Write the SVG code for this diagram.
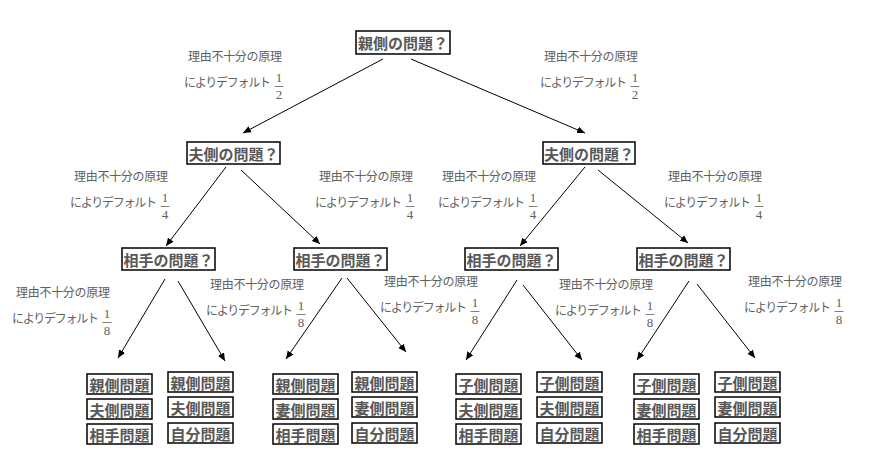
<svg xmlns="http://www.w3.org/2000/svg" width="883" height="464" viewBox="0 0 883 464">
<style>
.bx{fill:#fff;stroke:#000;stroke-width:1.5}
.nt{font-family:"Noto Sans CJK JP",sans-serif;font-weight:bold;font-size:15px;fill:#585858;text-anchor:middle;dominant-baseline:central}
.lt{font-family:"Noto Sans CJK JP",sans-serif;font-size:12px;fill:#606060}
.fr{font-family:"Liberation Serif",serif;font-size:13px;fill:#606060;text-anchor:middle}
.fb{stroke:#606060;stroke-width:0.8}
.cn{stroke:#000;stroke-width:1;fill:none;marker-end:url(#ah)}
</style>
<defs>
<marker id="ah" markerUnits="userSpaceOnUse" markerWidth="9" markerHeight="8" refX="8" refY="4" orient="auto">
<path d="M0,0.5 L8,4 L0,7.5 z" fill="#000"/>
</marker>
<g id="lab">
<text class="lt" x="0" y="0" text-anchor="middle" textLength="94">理由不十分の原理</text>
<text class="lt" x="-51" y="26" textLength="87">によりデフォルト</text>
<line class="fb" x1="39.5" x2="48.5" y1="25.5" y2="25.5"/>
</g>
</defs>
<rect width="883" height="464" fill="#fff"/>

<g id="connectors">
<line class="cn" x1="383" y1="59" x2="243" y2="133"/>
<line class="cn" x1="411" y1="59" x2="585" y2="133"/>
<line class="cn" x1="226" y1="167" x2="166" y2="246"/>
<line class="cn" x1="241" y1="170" x2="320" y2="244"/>
<line class="cn" x1="585" y1="167" x2="520" y2="246"/>
<line class="cn" x1="598" y1="170" x2="688" y2="243"/>
<line class="cn" x1="165" y1="279" x2="118" y2="358"/>
<line class="cn" x1="178" y1="281" x2="225" y2="361"/>
<line class="cn" x1="342" y1="278" x2="286" y2="359"/>
<line class="cn" x1="347" y1="278" x2="406" y2="352"/>
<line class="cn" x1="517" y1="280" x2="466" y2="360"/>
<line class="cn" x1="523" y1="285" x2="582" y2="360"/>
<line class="cn" x1="689" y1="281" x2="637" y2="360"/>
<line class="cn" x1="697" y1="284" x2="755" y2="358"/>
</g>

<g id="labels">
<g transform="translate(235,61)"><use href="#lab"/><text class="fr" x="44" y="21">1</text><text class="fr" x="44" y="38">2</text></g>
<g transform="translate(591,61)"><use href="#lab"/><text class="fr" x="44" y="21">1</text><text class="fr" x="44" y="38">2</text></g>
<g transform="translate(121,181)"><use href="#lab"/><text class="fr" x="44" y="21">1</text><text class="fr" x="44" y="38">4</text></g>
<g transform="translate(366,181)"><use href="#lab"/><text class="fr" x="44" y="21">1</text><text class="fr" x="44" y="38">4</text></g>
<g transform="translate(489,181)"><use href="#lab"/><text class="fr" x="44" y="21">1</text><text class="fr" x="44" y="38">4</text></g>
<g transform="translate(715,181)"><use href="#lab"/><text class="fr" x="44" y="21">1</text><text class="fr" x="44" y="38">4</text></g>
<g transform="translate(63,297)"><use href="#lab"/><text class="fr" x="44" y="21">1</text><text class="fr" x="44" y="38">8</text></g>
<g transform="translate(257,289)"><use href="#lab"/><text class="fr" x="44" y="21">1</text><text class="fr" x="44" y="38">8</text></g>
<g transform="translate(431,286)"><use href="#lab"/><text class="fr" x="44" y="21">1</text><text class="fr" x="44" y="38">8</text></g>
<g transform="translate(606,289)"><use href="#lab"/><text class="fr" x="44" y="21">1</text><text class="fr" x="44" y="38">8</text></g>
<g transform="translate(795,286)"><use href="#lab"/><text class="fr" x="44" y="21">1</text><text class="fr" x="44" y="38">8</text></g>
</g>

<g id="root"><rect class="bx" x="356" y="31" width="94" height="23"/><text class="nt" x="403" y="42.5">親側の問題？</text></g>
<g id="husbandL"><rect class="bx" x="187" y="142" width="93" height="22"/><text class="nt" x="233.5" y="153">夫側の問題？</text></g>
<g id="husbandR"><rect class="bx" x="543" y="142" width="92" height="22"/><text class="nt" x="589" y="153">夫側の問題？</text></g>
<g id="partner1"><rect class="bx" x="122" y="248" width="93" height="22"/><text class="nt" x="168.5" y="259">相手の問題？</text></g>
<g id="partner2"><rect class="bx" x="294" y="248" width="93" height="22"/><text class="nt" x="340.5" y="259">相手の問題？</text></g>
<g id="partner3"><rect class="bx" x="465" y="248" width="93" height="22"/><text class="nt" x="511.5" y="259">相手の問題？</text></g>
<g id="partner4"><rect class="bx" x="637" y="248" width="93" height="22"/><text class="nt" x="683.5" y="259">相手の問題？</text></g>

<g id="leaf1a"><rect class="bx" x="87" y="374" width="65" height="20"/><text class="nt" x="119.5" y="384">親側問題</text></g>
<g id="leaf1b"><rect class="bx" x="87" y="399" width="65" height="20"/><text class="nt" x="119.5" y="409">夫側問題</text></g>
<g id="leaf1c"><rect class="bx" x="87" y="424" width="65" height="20"/><text class="nt" x="119.5" y="434">相手問題</text></g>
<g id="leaf2a"><rect class="bx" x="168" y="372" width="65" height="20"/><text class="nt" x="200.5" y="382">親側問題</text></g>
<g id="leaf2b"><rect class="bx" x="168" y="397" width="65" height="20"/><text class="nt" x="200.5" y="407">夫側問題</text></g>
<g id="leaf2c"><rect class="bx" x="168" y="423" width="65" height="20"/><text class="nt" x="200.5" y="433">自分問題</text></g>

<g id="leaf3a"><rect class="bx" x="273" y="374" width="65" height="20"/><text class="nt" x="305.5" y="384">親側問題</text></g>
<g id="leaf3b"><rect class="bx" x="273" y="399" width="65" height="20"/><text class="nt" x="305.5" y="409">妻側問題</text></g>
<g id="leaf3c"><rect class="bx" x="273" y="424" width="65" height="20"/><text class="nt" x="305.5" y="434">相手問題</text></g>
<g id="leaf4a"><rect class="bx" x="352" y="372" width="65" height="20"/><text class="nt" x="384.5" y="382">親側問題</text></g>
<g id="leaf4b"><rect class="bx" x="352" y="397" width="65" height="20"/><text class="nt" x="384.5" y="407">妻側問題</text></g>
<g id="leaf4c"><rect class="bx" x="352" y="423" width="65" height="20"/><text class="nt" x="384.5" y="433">自分問題</text></g>

<g id="leaf5a"><rect class="bx" x="456" y="374" width="65" height="20"/><text class="nt" x="488.5" y="384">子側問題</text></g>
<g id="leaf5b"><rect class="bx" x="456" y="399" width="65" height="20"/><text class="nt" x="488.5" y="409">夫側問題</text></g>
<g id="leaf5c"><rect class="bx" x="456" y="424" width="65" height="20"/><text class="nt" x="488.5" y="434">相手問題</text></g>
<g id="leaf6a"><rect class="bx" x="537" y="372" width="65" height="20"/><text class="nt" x="569.5" y="382">子側問題</text></g>
<g id="leaf6b"><rect class="bx" x="537" y="397" width="65" height="20"/><text class="nt" x="569.5" y="407">夫側問題</text></g>
<g id="leaf6c"><rect class="bx" x="537" y="423" width="65" height="20"/><text class="nt" x="569.5" y="433">自分問題</text></g>

<g id="leaf7a"><rect class="bx" x="634" y="374" width="65" height="20"/><text class="nt" x="666.5" y="384">子側問題</text></g>
<g id="leaf7b"><rect class="bx" x="634" y="399" width="65" height="20"/><text class="nt" x="666.5" y="409">妻側問題</text></g>
<g id="leaf7c"><rect class="bx" x="634" y="424" width="65" height="20"/><text class="nt" x="666.5" y="434">相手問題</text></g>
<g id="leaf8a"><rect class="bx" x="715" y="372" width="65" height="20"/><text class="nt" x="747.5" y="382">子側問題</text></g>
<g id="leaf8b"><rect class="bx" x="715" y="397" width="65" height="20"/><text class="nt" x="747.5" y="407">妻側問題</text></g>
<g id="leaf8c"><rect class="bx" x="715" y="423" width="65" height="20"/><text class="nt" x="747.5" y="433">自分問題</text></g>
</svg>
